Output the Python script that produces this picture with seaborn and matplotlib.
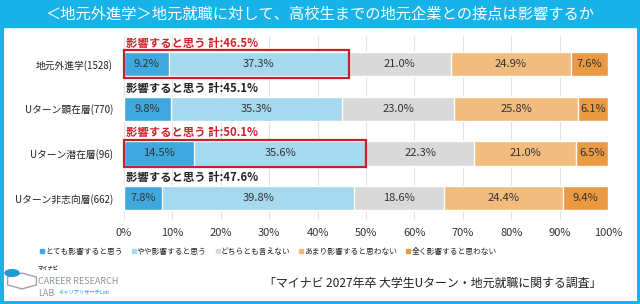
import matplotlib
matplotlib.use("Agg")
import matplotlib.pyplot as plt
import matplotlib.patches as mpatches
from matplotlib.lines import Line2D
import numpy as np
import pandas as pd
import seaborn as sns

# データ
categories = ["地元外進学(1528)", "Uターン顕在層(770)", "Uターン潜在層(96)", "Uターン非志向層(662)"]
series = ["とても影響すると思う", "やや影響すると思う", "どちらとも言えない", "あまり影響すると思わない", "全く影響すると思わない"]
very = [9.2, 9.8, 14.5, 7.8]
slightly = [37.3, 35.3, 35.6, 39.8]
neither = [21.0, 23.0, 22.3, 18.6]
not_much = [24.9, 25.8, 21.0, 24.4]
not_at_all = [7.6, 6.1, 6.5, 9.4]
totals = [46.5, 45.1, 50.1, 47.6]
highlight = [True, False, True, False]
colors = ["#3fa9df", "#a6d8ee", "#d9d9d9", "#f1bc7d", "#e99a42"]
frame_color = "#17b3e8"

sns.set_style("white")
plt.rcParams["font.family"] = ["Noto Sans CJK JP", "DejaVu Sans"]

values = np.array([very, slightly, neither, not_much, not_at_all])
cum = np.cumsum(values, axis=0)

fig = plt.figure(figsize=(6.4, 3.04), dpi=100)
ax = fig.add_axes([124 / 640, 1 - 220 / 304, 484 / 640, 184 / 304])

# 積み上げ棒（累積値を大きい順に重ねる）
for i in range(len(series) - 1, -1, -1):
    df = pd.DataFrame({"cat": categories, "val": cum[i]})
    sns.barplot(data=df, y="cat", x="val", color=colors[i], width=0.54,
                saturation=1, ax=ax, orient="h", zorder=2)

# 値ラベル
for r in range(len(categories)):
    start = 0
    for i in range(len(series)):
        v = values[i][r]
        ax.text(start + v / 2, r, f"{v:.1f}%", ha="center", va="center",
                fontsize=8, color="#333333", zorder=5)
        start += v
    red = highlight[r]
    ax.text(0.5, r - 0.32, f"影響すると思う 計:{totals[r]:.1f}%", ha="left", va="bottom",
            fontsize=8.2, fontweight="bold", color="#d0202a" if red else "#222222", zorder=5)
    if red:
        ax.add_patch(mpatches.Rectangle((0, r - 0.31), totals[r], 0.62, fill=False,
                                        edgecolor="#c8202a", linewidth=1.6, zorder=6,
                                        clip_on=False))

ax.set_xlim(0, 100)
ax.set_ylim(3.49, -0.63)
ax.set_xticks(range(0, 101, 10))
ax.set_xticklabels([f"{t}%" for t in range(0, 101, 10)], fontsize=8, color="#333333")
ax.tick_params(axis="y", labelsize=7, colors="#222222", length=0, pad=8)
ax.tick_params(axis="x", length=0, pad=6)
ax.set_xlabel("")
ax.set_ylabel("")
ax.grid(axis="x", color="#e3e3e3", linewidth=0.8, zorder=0)
ax.set_axisbelow(True)
for s in ax.spines.values():
    s.set_visible(False)

# 凡例
handles = [Line2D([], [], marker="s", linestyle="", markersize=2.8, color=c) for c in colors]
fig.legend(handles, series, loc="center", bbox_to_anchor=(268 / 640, 1 - 252 / 304), ncol=5,
           frameon=False, fontsize=5.6, handletextpad=0.0, columnspacing=1.0, handlelength=0.8)

# タイトル帯と枠
fig.patches.append(mpatches.Rectangle((0, 1 - 27 / 304), 1, 27 / 304, transform=fig.transFigure,
                                      color=frame_color, zorder=0))
fig.patches.append(mpatches.Rectangle((0, 0), 1, 1, transform=fig.transFigure, fill=False,
                                      edgecolor=frame_color, linewidth=5, zorder=10))
fig.text(0.5, 1 - 14 / 304, "＜地元外進学＞地元就職に対して、高校生までの地元企業との接点は影響するか",
         ha="center", va="center", fontsize=11, color="white")

# 出典
fig.text(601 / 640, 1 - 283 / 304, "「マイナビ 2027年卒 大学生Uターン・地元就職に関する調査」",
         ha="right", va="center", fontsize=8.6, color="#222222")

# ロゴ（簡易）
fig.patches.append(mpatches.RegularPolygon((22 / 640, 1 - 281 / 304), numVertices=6, radius=0.026,
                                           transform=fig.transFigure, fill=False,
                                           edgecolor="#9aa3ab", linewidth=1.0))
fig.patches.append(mpatches.Circle((12 / 640, 1 - 273 / 304), 0.011, transform=fig.transFigure,
                                   color="#1e9ad6"))
fig.text(38 / 640, 1 - 269 / 304, "マイナビ", fontsize=3.8, color="#333333", va="center", fontweight="bold")
fig.text(38 / 640, 1 - 281 / 304, "CAREER RESEARCH", fontsize=6.5, color="#8a949c", va="center")
fig.text(38 / 640, 1 - 293 / 304, "LAB", fontsize=6.5, color="#8a949c", va="center")
fig.text(58 / 640, 1 - 293 / 304, "キャリアリサーチLab", fontsize=3.8, color="#1e9ad6", va="center")

fig.savefig("out.png", dpi=100)
